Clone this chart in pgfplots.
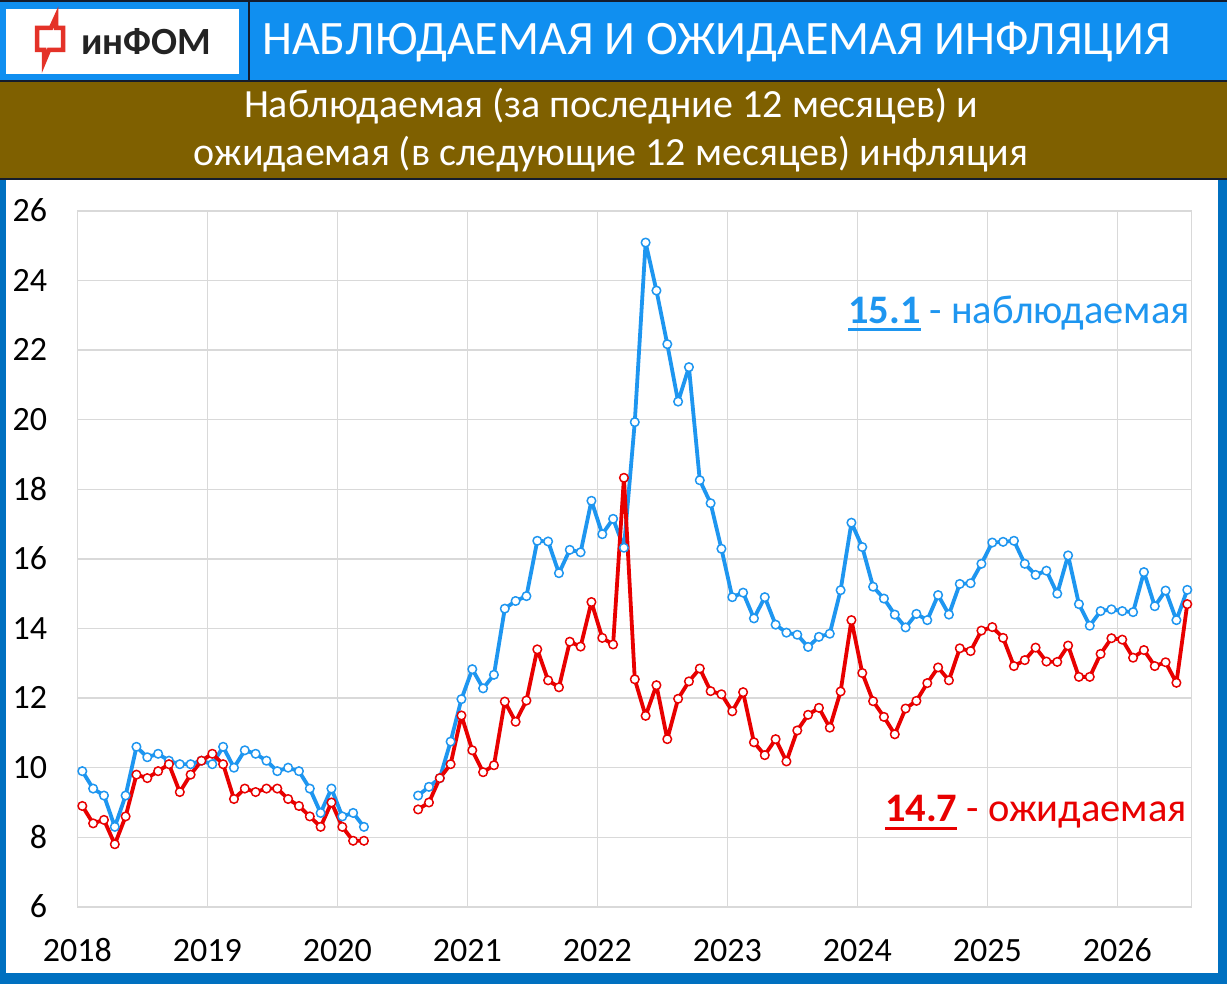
\documentclass[border=0pt]{standalone}
\usepackage{fontspec}
\setmainfont{Carlito}
\usepackage{pgfplots}
\pgfplotsset{compat=1.18}
\usepackage{pgfplotstable}
\definecolor{headblue}{RGB}{16,143,240}
\definecolor{brownband}{RGB}{127,96,0}
\definecolor{borderblue}{RGB}{0,112,192}
\definecolor{navy}{RGB}{20,28,45}
\definecolor{sblue}{RGB}{30,150,240}
\definecolor{sred}{RGB}{232,0,0}
\definecolor{gridgray}{RGB}{217,217,217}
\definecolor{logored}{RGB}{228,50,40}
\definecolor{logotext}{RGB}{35,35,35}
\newcommand\myul[1]{\setbox0\hbox{#1}\rlap{\rule[-8pt]{\wd0}{3pt}}\box0\relax}

\pgfplotstableread{
i blue red
0 9.9 8.9
1 9.4 8.4
2 9.2 8.5
3 8.3 7.8
4 9.2 8.6
5 10.6 9.8
6 10.3 9.7
7 10.4 9.9
8 10.2 10.1
9 10.1 9.3
10 10.1 9.8
11 10.2 10.2
12 10.1 10.4
13 10.6 10.1
14 10.0 9.1
15 10.5 9.4
16 10.4 9.3
17 10.2 9.4
18 9.9 9.4
19 10.0 9.1
20 9.9 8.9
21 9.4 8.6
22 8.7 8.3
23 9.4 9.0
24 8.6 8.3
25 8.7 7.9
26 8.3 7.9
27 nan nan
28 nan nan
29 nan nan
30 nan nan
31 9.2 8.8
32 9.45 9.0
33 9.7 9.7
34 10.75 10.1
35 11.97 11.5
36 12.83 10.5
37 12.28 9.87
38 12.67 10.07
39 14.57 11.9
40 14.79 11.32
41 14.93 11.93
42 16.52 13.4
43 16.5 12.51
44 15.59 12.31
45 16.26 13.62
46 16.19 13.48
47 17.67 14.76
48 16.71 13.73
49 17.15 13.54
50 16.32 18.33
51 19.93 12.54
52 25.09 11.49
53 23.71 12.37
54 22.17 10.82
55 20.52 11.98
56 21.51 12.48
57 18.26 12.85
58 17.60 12.20
59 16.29 12.11
60 14.90 11.62
61 15.03 12.17
62 14.29 10.73
63 14.90 10.36
64 14.11 10.82
65 13.88 10.18
66 13.82 11.07
67 13.47 11.52
68 13.76 11.72
69 13.85 11.15
70 15.10 12.19
71 17.04 14.24
72 16.34 12.72
73 15.20 11.91
74 14.86 11.46
75 14.40 10.96
76 14.03 11.70
77 14.42 11.92
78 14.24 12.43
79 14.96 12.88
80 14.40 12.51
81 15.28 13.43
82 15.30 13.35
83 15.86 13.94
84 16.47 14.04
85 16.49 13.73
86 16.52 12.92
87 15.86 13.09
88 15.54 13.45
89 15.66 13.05
90 15.00 13.04
91 16.10 13.51
92 14.70 12.61
93 14.08 12.61
94 14.50 13.27
95 14.55 13.72
96 14.50 13.68
97 14.47 13.16
98 15.62 13.38
99 14.64 12.92
100 15.09 13.03
101 14.24 12.44
102 15.11 14.70
}\datatable

\begin{document}
\begin{tikzpicture}[x=1pt,y=1pt]
\path[use as bounding box] (0,0) rectangle (1227,984);
% frame and bands
\fill[borderblue] (0,0) rectangle (1227,984);
\fill[white] (6,11) rectangle (1218,804);
\fill[headblue] (0,903) rectangle (1227,984);
\fill[brownband] (0,805) rectangle (1227,902);
\draw[navy, line width=2pt] (0,983) -- (1227,983);
\draw[navy, line width=2pt] (0,903) -- (1227,903);
\draw[navy, line width=1.5pt] (0,805) -- (1227,805);
\draw[navy, line width=2pt] (249,903) -- (249,984);
% logo
\fill[white] (6,910) rectangle (239,975);
\draw[logored, line width=4.5pt, line join=miter]
  (37,956) -- (51,956) -- (56,967) -- (56,956) -- (63,956) -- (63,934)
  -- (49,934) -- (44,922) -- (44,934) -- (37,934) -- cycle;
\node[anchor=base west, inner sep=0pt, text=logotext, font=\bfseries\fontsize{38.5}{38.5}\selectfont] at (81,929) {инФОМ};
% titles
\node[anchor=base west, inner sep=0pt, text=white, font=\fontsize{48}{48}\selectfont] at (262,929) {НАБЛЮДАЕМАЯ И ОЖИДАЕМАЯ ИНФЛЯЦИЯ};
\node[anchor=base, inner sep=0pt, text=white, font=\fontsize{40}{40}\selectfont] at (611,866) {Наблюдаемая (за последние 12 месяцев) и};
\node[anchor=base, inner sep=0pt, text=white, font=\fontsize{40}{40}\selectfont] at (611,818) {ожидаемая (в следующие 12 месяцев) инфляция};

\begin{axis}[
  at={(77.3pt,77.1pt)}, anchor=south west,
  width=1114.4pt, height=696pt, scale only axis,
  xmin=-0.4615, xmax=102.41, ymin=6, ymax=26,
  ytick={6,8,...,26},
  xtick={-0.4615,11.5385,23.5385,35.5385,47.5385,59.5385,71.5385,83.5385,95.5385},
  xticklabels={2018,2019,2020,2021,2022,2023,2024,2025,2026},
  grid=major,
  major grid style={gridgray, line width=1.3pt},
  axis line style={gridgray, line width=1.3pt},
  major tick length=0pt,
  tick style={draw=none},
  /pgf/number format/assume math mode=true,
  ticklabel style={font=\fontsize{34}{34}\selectfont, text=black, inner sep=0pt},
  yticklabel style={anchor=base east, xshift=-30pt, yshift=-10.8pt},
  xticklabel style={anchor=base, yshift=-54.6pt},
  unbounded coords=jump,
  clip=false,
]
\addplot[sblue, line width=3.8pt, line join=round, mark=*, mark size=4.3pt,
  mark options={fill=white, draw=sblue, line width=1.5pt}]
  table[x=i, y=blue] {\datatable};
\addplot[sred, line width=3.8pt, line join=round, mark=*, mark size=4.3pt,
  mark options={fill=white, draw=sred, line width=1.5pt}]
  table[x=i, y=red] {\datatable};
\end{axis}

\node[anchor=base east, inner sep=0pt, text=sblue, font=\fontsize{40.5}{40.5}\selectfont] at (1190,660.7) {\myul{\bfseries 15.1} - наблюдаемая};
\node[anchor=base east, inner sep=0pt, text=sred, font=\fontsize{40.5}{40.5}\selectfont] at (1187,162.3) {\myul{\bfseries 14.7} - ожидаемая};
\end{tikzpicture}
\end{document}
